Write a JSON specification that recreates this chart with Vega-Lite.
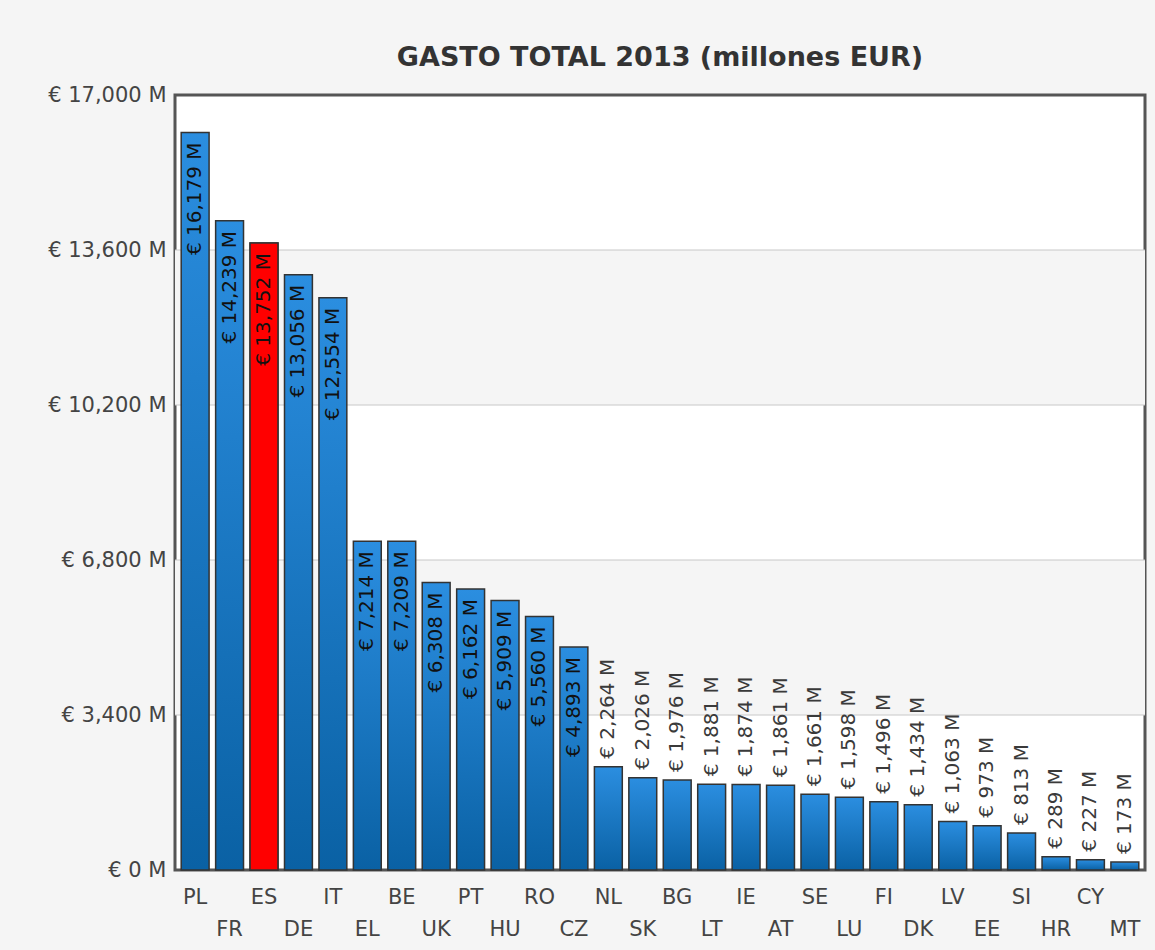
{
  "$schema": "https://vega.github.io/schema/vega-lite/v6.json",
  "width": 970,
  "height": 775,
  "autosize": {"type": "none"},
  "padding": {"left": 175, "top": 95, "right": 10, "bottom": 80},
  "background": "#f5f5f5",
  "title": {
    "text": "GASTO TOTAL 2013 (millones EUR)",
    "font": "DejaVu Sans",
    "fontSize": 27,
    "fontWeight": "bold",
    "color": "#333333",
    "anchor": "middle",
    "frame": "group",
    "offset": 12
  },
  "config": {
    "font": "DejaVu Sans",
    "view": {"fill": "white", "stroke": "#555555", "strokeWidth": 3}
  },
  "datasets": {
    "gasto": [
      {"country": "PL", "value": 16179},
      {"country": "FR", "value": 14239},
      {"country": "ES", "value": 13752},
      {"country": "DE", "value": 13056},
      {"country": "IT", "value": 12554},
      {"country": "EL", "value": 7214},
      {"country": "BE", "value": 7209},
      {"country": "UK", "value": 6308},
      {"country": "PT", "value": 6162},
      {"country": "HU", "value": 5909},
      {"country": "RO", "value": 5560},
      {"country": "CZ", "value": 4893},
      {"country": "NL", "value": 2264},
      {"country": "SK", "value": 2026},
      {"country": "BG", "value": 1976},
      {"country": "LT", "value": 1881},
      {"country": "IE", "value": 1874},
      {"country": "AT", "value": 1861},
      {"country": "SE", "value": 1661},
      {"country": "LU", "value": 1598},
      {"country": "FI", "value": 1496},
      {"country": "DK", "value": 1434},
      {"country": "LV", "value": 1063},
      {"country": "EE", "value": 973},
      {"country": "SI", "value": 813},
      {"country": "HR", "value": 289},
      {"country": "CY", "value": 227},
      {"country": "MT", "value": 173}
    ],
    "bands": [
      {"from": 3400, "to": 6800},
      {"from": 10200, "to": 13600}
    ]
  },
  "layer": [
    {
      "data": {"name": "bands"},
      "mark": {"type": "rect", "fill": "#f5f5f5"},
      "encoding": {
        "y": {"field": "from", "type": "quantitative", "scale": {"domain": [0, 17000], "nice": false}},
        "y2": {"field": "to"}
      }
    },
    {
      "data": {"name": "bands"},
      "mark": {"type": "rule", "stroke": "#c8c8c8", "strokeWidth": 1},
      "encoding": {"y": {"field": "from", "type": "quantitative"}}
    },
    {
      "data": {"name": "bands"},
      "mark": {"type": "rule", "stroke": "#c8c8c8", "strokeWidth": 1},
      "encoding": {"y": {"field": "to", "type": "quantitative"}}
    },
    {
      "data": {"name": "gasto"},
      "mark": {
        "type": "bar",
        "fill": {
          "gradient": "linear",
          "x1": 0, "y1": 0, "x2": 0, "y2": 1,
          "stops": [
            {"offset": 0, "color": "#2b8ee0"},
            {"offset": 1, "color": "#0a61a4"}
          ]
        },
        "stroke": "#333333",
        "strokeWidth": 1.5
      },
      "encoding": {
        "x": {
          "field": "country",
          "type": "nominal",
          "sort": null,
          "scale": {"paddingInner": 0.19, "paddingOuter": 0.18},
          "axis": {
            "title": null,
            "domain": false,
            "ticks": false,
            "labelAngle": 0,
            "labelPadding": 16,
            "labelFontSize": 21,
            "labelColor": "#444444",
            "labelLineHeight": 32,
            "labelOverlap": false,
            "labelBound": false,
            "labelExpr": "indexof(['FR','DE','EL','UK','HU','CZ','SK','LT','AT','LU','DK','EE','HR','MT'], datum.value) >= 0 ? ['', datum.value] : datum.value"
          }
        },
        "y": {
          "field": "value",
          "type": "quantitative",
          "axis": {
            "title": null,
            "domain": false,
            "ticks": false,
            "grid": false,
            "values": [0, 3400, 6800, 10200, 13600, 17000],
            "labelPadding": 9,
            "labelFontSize": 21,
            "labelColor": "#444444",
            "labelExpr": "'€ ' + format(datum.value, ',') + ' M'"
          }
        }
      }
    },
    {
      "data": {"name": "gasto"},
      "transform": [{"filter": "datum.country === 'ES'"}],
      "mark": {"type": "bar", "fill": "#ff0000", "stroke": "#333333", "strokeWidth": 1.5},
      "encoding": {
        "x": {"field": "country", "type": "nominal", "sort": null},
        "y": {"field": "value", "type": "quantitative"}
      }
    },
    {
      "data": {"name": "gasto"},
      "transform": [
        {"filter": "datum.value > 3000"},
        {"calculate": "'€ ' + format(datum.value, ',') + ' M'", "as": "label"}
      ],
      "mark": {"type": "text", "angle": 270, "align": "right", "baseline": "middle", "dx": -10, "fontSize": 20, "color": "#111111"},
      "encoding": {
        "x": {"field": "country", "type": "nominal", "sort": null},
        "y": {"field": "value", "type": "quantitative"},
        "text": {"field": "label"}
      }
    },
    {
      "data": {"name": "gasto"},
      "transform": [
        {"filter": "datum.value <= 3000"},
        {"calculate": "'€ ' + format(datum.value, ',') + ' M'", "as": "label"}
      ],
      "mark": {"type": "text", "angle": 270, "align": "left", "baseline": "middle", "dx": 8, "fontSize": 20, "color": "#3a3a3a"},
      "encoding": {
        "x": {"field": "country", "type": "nominal", "sort": null},
        "y": {"field": "value", "type": "quantitative"},
        "text": {"field": "label"}
      }
    }
  ]
}
